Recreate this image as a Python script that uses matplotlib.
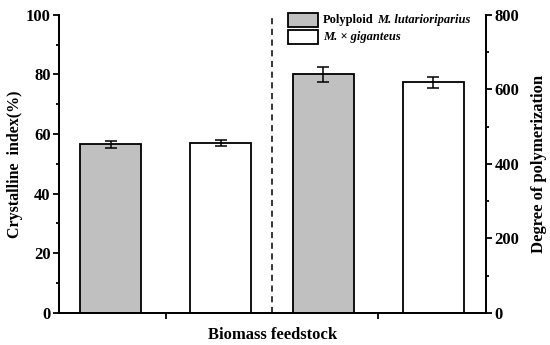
import numpy as np
import matplotlib.pyplot as plt
from matplotlib.patches import Rectangle
from matplotlib.offsetbox import AnchoredOffsetbox, DrawingArea, HPacker, TextArea, VPacker
from matplotlib.ticker import MultipleLocator

plt.rcParams["font.family"] = ["Liberation Serif", "DejaVu Serif"]
plt.rcParams["font.weight"] = "bold"

groups = ["Crystalline index", "Degree of polymerization"]
species = [("Polyploid", "M. lutarioriparius"), ("", "M. × giganteus")]
crystalline = [56.6, 57.1]
crystalline_err = [1.2, 1.05]
dp = [641, 619]
dp_err = [20, 15]
colors = ["#c0c0c0", "white"]

fig = plt.figure(figsize=(5.5, 3.45), dpi=100)
ax = fig.add_axes([0.107, 0.093, 0.777, 0.864])
ax2 = ax.twinx()

width = 0.286
offsets = [-0.258, 0.258]
ekw = dict(capsize=4.5, elinewidth=1.1, capthick=1.1)
for i in range(2):
    ax.bar(0 + offsets[i], crystalline[i], width, yerr=crystalline_err[i],
           color=colors[i], edgecolor="black", linewidth=1.3, error_kw=ekw)
    ax2.bar(1 + offsets[i], dp[i], width, yerr=dp_err[i],
            color=colors[i], edgecolor="black", linewidth=1.3, error_kw=ekw)

ax.axvline(0.5, color="black", linestyle=(0, (4, 3)), linewidth=1.1)

ax.set_xlim(-0.502, 1.507)
ax.set_ylim(0, 100)
ax2.set_ylim(0, 800)
ax.set_xticks([0, 1])
ax.set_xticklabels([])
ax.yaxis.set_major_locator(MultipleLocator(20))
ax.yaxis.set_minor_locator(MultipleLocator(10))
ax2.yaxis.set_major_locator(MultipleLocator(200))
ax2.yaxis.set_minor_locator(MultipleLocator(100))

for a in (ax, ax2):
    a.spines["top"].set_visible(False)
    for s in a.spines.values():
        s.set_linewidth(1.3)
    a.tick_params(which="major", direction="out", length=4, width=1.3, labelsize=12, pad=2)
    a.tick_params(which="minor", direction="out", length=2.5, width=1.3)

ax.set_ylabel("Crystalline  index(%)", fontsize=11.5, fontweight="bold", labelpad=2)
ax2.set_ylabel("Degree of polymerization", fontsize=12, fontweight="bold", labelpad=8)
ax.set_xlabel("Biomass feedstock", fontsize=12, fontweight="bold", labelpad=4)

# legend built by hand: mixed upright / italic labels
rows = []
for (plain, ital), c in zip(species, colors):
    da = DrawingArea(23, 11, 0, 0)
    da.add_artist(Rectangle((0.5, 0.5), 22, 10, facecolor=c, edgecolor="black", linewidth=1.3))
    words = []
    if plain:
        words.append(TextArea(plain, textprops=dict(fontsize=9, fontweight="bold")))
    words.append(TextArea(ital, textprops=dict(fontsize=9, fontweight="bold", style="italic")))
    label = HPacker(children=words, align="baseline", pad=0, sep=2.5)
    rows.append(HPacker(children=[da, label], align="center", pad=0, sep=3))
box = VPacker(children=rows, align="left", pad=0, sep=1.5)
anch = AnchoredOffsetbox(loc="upper left", child=box, pad=0, borderpad=0, frameon=False,
                         bbox_to_anchor=(287 / 550, 1 - 12 / 345),
                         bbox_transform=fig.transFigure)
ax2.add_artist(anch)

fig.savefig("out.png", dpi=100)
